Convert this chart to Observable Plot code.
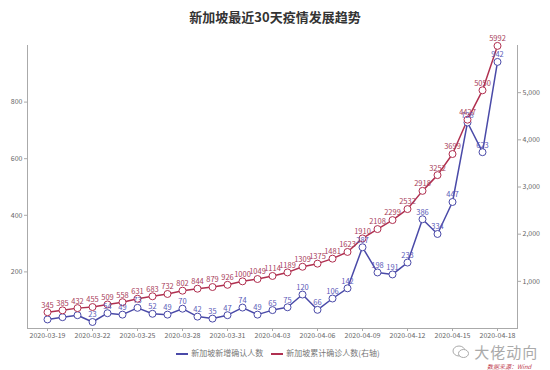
<!DOCTYPE html>
<html><head><meta charset="utf-8">
<script src="https://cdn.jsdelivr.net/npm/d3@7"></script>
<script src="https://cdn.jsdelivr.net/npm/@observablehq/plot@0.6"></script>
<style>
body{margin:0;background:#fff;font-family:"Noto Sans CJK SC","Noto Sans",sans-serif;}
#wrap{position:relative;width:550px;height:370px;overflow:hidden;background:#fff;}
#title{position:absolute;top:7px;left:0;width:550px;text-align:center;font-size:13px;font-weight:bold;color:#333;}
#chart{position:absolute;top:30px;left:0;}
.unit{position:absolute;top:30px;font-size:7px;color:#888;}
#legend{position:absolute;top:347px;left:0;width:550px;text-align:center;font-size:8px;color:#777;}
#legend span.sw{display:inline-block;width:12px;height:2px;vertical-align:middle;margin:0 3px 0 6px;}
#wm{position:absolute;top:341px;left:452px;font-size:15px;color:#aaa;letter-spacing:1px;}
#src{position:absolute;top:362px;left:487px;font-size:6px;color:#c04050;font-style:italic;}
</style></head>
<body>
<div id="wrap">
  <div id="title">新加坡最近30天疫情发展趋势</div>
  <div class="unit" style="left:21px">例</div>
  <div class="unit" style="left:513px">例</div>
  <div id="chart"></div>
  <div id="legend"><span class="sw" style="background:#4a4aa8"></span>新加坡新增确认人数<span class="sw" style="background:#b03050;margin-left:8px"></span>新加坡累计确诊人数(右轴)</div>
  <div id="wm"><svg width="18" height="14" viewBox="0 0 18 14" style="vertical-align:-1px"><ellipse cx="7" cy="6" rx="6" ry="5" fill="none" stroke="#aaa" stroke-width="1"/><ellipse cx="11.5" cy="8.5" rx="5" ry="4" fill="#fff" stroke="#aaa" stroke-width="1"/></svg> 大佬动向</div>
  <div id="src">数据来源：Wind</div>
</div>
<script>
const dates = ["2020-03-19","2020-03-20","2020-03-21","2020-03-22","2020-03-23","2020-03-24","2020-03-25","2020-03-26","2020-03-27","2020-03-28","2020-03-29","2020-03-30","2020-03-31","2020-04-01","2020-04-02","2020-04-03","2020-04-04","2020-04-05","2020-04-06","2020-04-07","2020-04-08","2020-04-09","2020-04-10","2020-04-11","2020-04-12","2020-04-13","2020-04-14","2020-04-15","2020-04-16","2020-04-17","2020-04-18"];
const daily = [32,40,47,23,54,49,73,52,49,70,42,35,47,74,49,65,75,120,66,106,142,287,198,191,233,386,334,447,728,623,942];
const cumulative = [345,385,432,455,509,558,631,683,732,802,844,879,926,1000,1049,1114,1189,1309,1375,1481,1623,1910,2108,2299,2532,2918,3252,3699,4427,5050,5992];
const leftTicks = [200,400,600,800];
const rightTicks = [1000,2000,3000,4000,5000];
const xTicks = dates.filter((d,i)=>i%3===0);

const ratio = 6; // right axis max 6000 vs left max 1000
const blue = "#4a4aa8", red = "#b03050";
const data = dates.map((d,i)=>({date:d, daily:daily[i], cum:cumulative[i], i}));

const chart = Plot.plot({
  width: 550, height: 312,
  marginTop: 15, marginBottom: 14, marginLeft: 27, marginRight: 33,
  style: {fontFamily: '"Noto Sans CJK SC","Noto Sans",sans-serif', fontSize: "7px", color: "#666", background: "#fff"},
  x: {type: "point", domain: dates, padding: 0.57},
  y: {domain: [0, 1000]},
  marks: [
    Plot.frame({anchor: "left", stroke: "#aaa"}),
    Plot.frame({anchor: "right", stroke: "#aaa"}),
    Plot.ruleY([0], {stroke: "#aaa"}),
    Plot.axisX({ticks: xTicks, tickSize: 3, tickPadding: 2, fill: "#666", stroke: "#aaa", label: null}),
    Plot.axisY({anchor: "left", ticks: leftTicks, tickSize: 3, tickPadding: 2, fill: "#666", stroke: "#aaa", label: null}),
    Plot.axisY({anchor: "right", ticks: rightTicks.map(v=>v/ratio), tickFormat: d=>d3.format(",")(Math.round(d*ratio)), tickSize: 3, tickPadding: 2, fill: "#666", stroke: "#aaa", label: null}),
    Plot.line(data, {x: "date", y: "daily", stroke: blue, strokeWidth: 1.5}),
    Plot.line(data, {x: "date", y: d=>d.cum/ratio, stroke: red, strokeWidth: 1.5}),
    Plot.dot(data, {x: "date", y: "daily", r: 3.5, fill: "#fff", stroke: blue, strokeWidth: 1}),
    Plot.dot(data, {x: "date", y: d=>d.cum/ratio, r: 3.5, fill: "#fff", stroke: red, strokeWidth: 1}),
    Plot.text(data.filter(d=>d.i>=3), {x: "date", y: "daily", text: d=>String(d.daily), dy: -7, fill: "#5a5ab8", fontSize: 7.5}),
    Plot.text(data, {x: "date", y: d=>d.cum/ratio, text: d=>String(d.cum), dy: -7, fill: "#a8405a", fontSize: 7.5})
  ]
});
document.getElementById("chart").appendChild(chart);
</script>
</body></html>
